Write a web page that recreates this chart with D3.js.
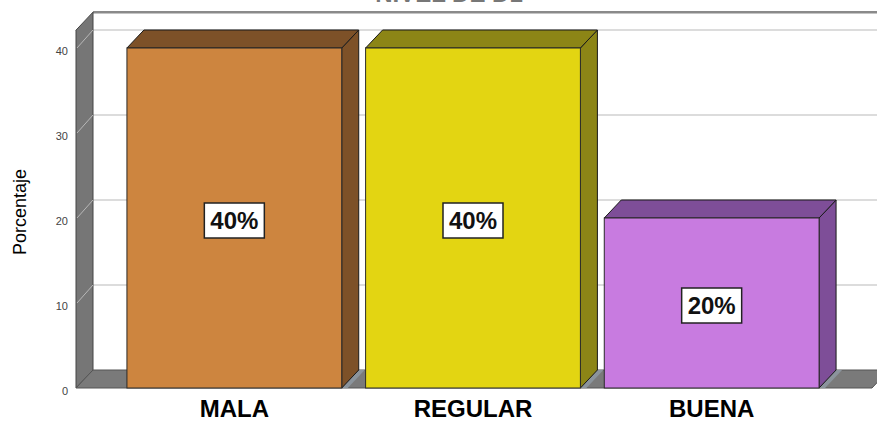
<!DOCTYPE html>
<html>
<head>
<meta charset="utf-8">
<script src="https://cdn.jsdelivr.net/npm/d3@7"></script>
<style>
  html, body { margin: 0; padding: 0; background: #fff; }
  svg { display: block; }
</style>
</head>
<body>
<svg id="chart" width="877" height="421"></svg>
<script>
// ---- data ----
const categories = ["MALA", "REGULAR", "BUENA"];
const values = [40, 40, 20];
const valueLabels = ["40%", "40%", "20%"];
const yTicks = [0, 10, 20, 30, 40];
const frontColors = ["#CD853F", "#E3D512", "#C87BE0"];
const sideColors = ["#7D5128", "#8C8516", "#7E4E98"];
const yTitle = "Porcentaje";
const chartTitle = "NIVEL DE   D1";

// ---- layout ----
const W = 877, H = 421;
const DX = 17, DY = -18;           // 3D depth offset
const svg = d3.select("#chart");
const font = "'Liberation Sans', Arial, Helvetica, sans-serif";

const x = d3.scaleBand().domain(categories).range([115, 831]).paddingInner(0.1).paddingOuter(0.05);
const y = d3.scaleLinear().domain([0, 40]).range([388, 48]);

const wallLeft = 76, wallTopV = 42.1, floorRight = 872;

// title (cropped at top, as in the reference)
svg.append("text").attr("x", 449).attr("y", 2).attr("text-anchor", "middle")
  .attr("font-family", font).attr("font-weight", "bold").attr("font-size", 24)
  .attr("fill", "#777").text(chartTitle);

// back wall
svg.append("rect").attr("x", wallLeft + DX).attr("y", y(wallTopV) + DY)
  .attr("width", W - wallLeft - DX).attr("height", y(0) - y(wallTopV))
  .attr("fill", "#ffffff");
// back wall top edge
svg.append("line").attr("x1", wallLeft + DX).attr("x2", W)
  .attr("y1", y(wallTopV) + DY).attr("y2", y(wallTopV) + DY)
  .attr("stroke", "#8a8a8a").attr("stroke-width", 2.5);

// gridlines on back wall
svg.append("g").selectAll("line").data(yTicks.filter(d => d > 0)).join("line")
  .attr("x1", wallLeft + DX).attr("x2", W)
  .attr("y1", d => y(d) + DY).attr("y2", d => y(d) + DY)
  .attr("stroke", "#dcdcdc").attr("stroke-width", 2);

// left side wall
svg.append("path")
  .attr("d", `M${wallLeft},${y(wallTopV)} L${wallLeft + DX},${y(wallTopV) + DY} L${wallLeft + DX},${y(0) + DY} L${wallLeft},${y(0)} Z`)
  .attr("fill", "#767676").attr("stroke", "#444").attr("stroke-width", 1);
// highlight lines on side wall
svg.append("g").selectAll("line").data(yTicks.filter(d => d > 0)).join("line")
  .attr("x1", wallLeft + 1).attr("x2", wallLeft + DX)
  .attr("y1", d => y(d)).attr("y2", d => y(d) + DY)
  .attr("stroke", "#b8b8b8").attr("stroke-width", 1);

// floor
svg.append("path")
  .attr("d", `M${wallLeft},${y(0)} L${wallLeft + DX},${y(0) + DY} L${floorRight + DX},${y(0) + DY} L${floorRight},${y(0)} Z`)
  .attr("fill", "#7a7a7a").attr("stroke", "#555").attr("stroke-width", 1);

// bars
const bars = svg.append("g").selectAll("g").data(categories).join("g");
bars.each(function (c, i) {
  const g = d3.select(this);
  const x0 = x(c), x1 = x(c) + x.bandwidth();
  const yt = y(values[i]), yb = y(0);
  // lighter floor patch beside the side face
  g.append("path")
    .attr("d", `M${x1},${yb} L${x1 + DX},${yb + DY} L${x1 + DX + 6},${yb + DY} L${x1 + 6},${yb} Z`)
    .attr("fill", "#8b949c");
  // side face
  g.append("path")
    .attr("d", `M${x1},${yt} L${x1 + DX},${yt + DY} L${x1 + DX},${yb + DY} L${x1},${yb} Z`)
    .attr("fill", sideColors[i]).attr("stroke", "#1a1a1a").attr("stroke-width", 1);
  // top face
  g.append("path")
    .attr("d", `M${x0},${yt} L${x0 + DX},${yt + DY} L${x1 + DX},${yt + DY} L${x1},${yt} Z`)
    .attr("fill", sideColors[i]).attr("stroke", "#1a1a1a").attr("stroke-width", 1);
  // front face
  g.append("rect").attr("x", x0).attr("y", yt)
    .attr("width", x.bandwidth()).attr("height", yb - yt)
    .attr("fill", frontColors[i]).attr("stroke", "#2a2a2a").attr("stroke-width", 1);

  // value label box
  const cx = x0 + x.bandwidth() / 2, cy = y(values[i] / 2) + 2;
  g.append("rect").attr("x", cx - 30).attr("y", cy - 17).attr("width", 60).attr("height", 35)
    .attr("fill", "#fff").attr("stroke", "#222").attr("stroke-width", 1.5);
  g.append("text").attr("x", cx).attr("y", cy + 9).attr("text-anchor", "middle")
    .attr("font-family", font).attr("font-weight", "bold").attr("font-size", 24)
    .attr("fill", "#111").text(valueLabels[i]);
});

// y axis
const yAxis = svg.append("g").attr("transform", `translate(${wallLeft - 8},0)`)
  .call(d3.axisLeft(y).tickValues(yTicks).tickSize(0).tickPadding(0));
yAxis.select(".domain").remove();
yAxis.selectAll("text").attr("font-family", font).attr("font-size", 11)
  .attr("fill", "#444").attr("dy", "0.6em");

// y title
svg.append("text").attr("transform", `translate(26,212) rotate(-90)`)
  .attr("text-anchor", "middle").attr("font-family", font).attr("font-size", 18)
  .attr("fill", "#000").text(yTitle);

// x axis labels
const xAxis = svg.append("g").attr("transform", `translate(0,${y(0)})`)
  .call(d3.axisBottom(x).tickSize(0).tickPadding(0));
xAxis.select(".domain").remove();
xAxis.selectAll("text").attr("font-family", font).attr("font-weight", "bold")
  .attr("font-size", 24).attr("fill", "#000").attr("dy", "1.22em");
</script>
</body>
</html>
